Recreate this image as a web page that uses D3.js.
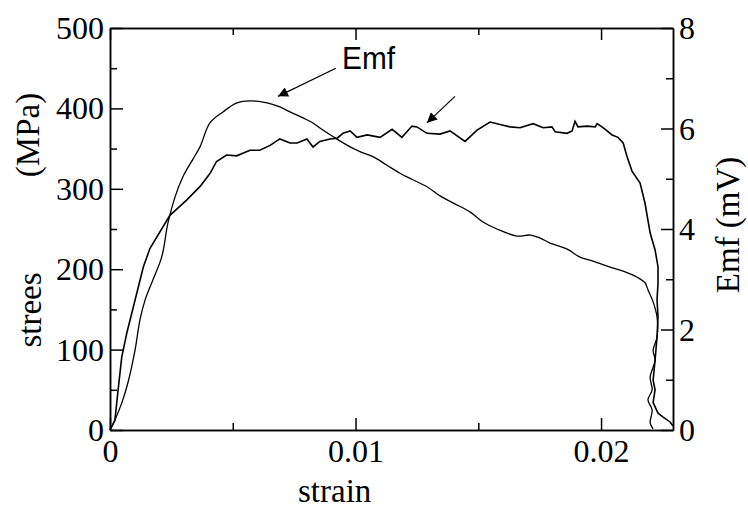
<!DOCTYPE html>
<html>
<head>
<meta charset="utf-8">
<script src="https://cdn.jsdelivr.net/npm/d3@7"></script>
<style>
body { margin: 0; background: #fff; }
svg text { font-family: 'Liberation Serif', 'Times New Roman', Times, serif !important; }
svg text.sans { font-family: 'Liberation Sans', Arial, sans-serif !important; }
.axis path, .axis line { stroke: #000; stroke-width: 1.5; }
</style>
</head>
<body>
<div class="container"></div>
<script>
const WIDTH = 748
	, HEIGHT = 508
	, LEFT = 110
	, RIGHT = 673
	, TOP = 28
	, BOTTOM = 430;

// strain / stress (MPa) curve
var stressStrain = [0, 0.0002, 0.00033, 0.00048, 0.00068, 0.00095, 0.00136, 0.00163, 0.00244, 0.00312,
	0.00367, 0.00407, 0.00434, 0.00475, 0.00516, 0.0057, 0.0061, 0.00652, 0.00692, 0.00733,
	0.00762, 0.00802, 0.00827, 0.00855, 0.00896, 0.00925, 0.00949, 0.00978, 0.01006, 0.01047,
	0.011, 0.01149, 0.01189, 0.0123, 0.0125, 0.01291, 0.01344, 0.01385, 0.01446, 0.01495,
	0.01548, 0.01589, 0.01629, 0.0167, 0.01723, 0.01764, 0.018, 0.01813, 0.01861, 0.01882,
	0.01894, 0.01906, 0.01943, 0.01976, 0.01984, 0.02008, 0.02045, 0.02069, 0.0209, 0.02106,
	0.02126, 0.02159, 0.02179, 0.022, 0.0222, 0.02232, 0.02232, 0.02228, 0.02232, 0.02228,
	0.0222, 0.02212, 0.0222, 0.02212, 0.02232, 0.02253, 0.02281, 0.02293];
var stressValues = [0, 12, 50, 91, 120, 153, 203, 226, 267, 286,
	303, 319, 334, 342, 341, 348, 348, 354, 362, 357,
	357, 362, 352, 359, 362, 363, 369, 372, 364, 367,
	364, 374, 364, 378, 377, 369, 368, 372, 359, 373,
	383, 380, 377, 376, 381, 376, 377, 371, 369, 372,
	384, 377, 378, 377, 381, 376, 367, 364, 357, 340,
	322, 307, 282, 245, 224, 203, 183, 162, 141, 116,
	87, 62, 50, 34, 21, 16, 10, 5];

// strain / Emf (mV) curve
var emfStrain = [0, 0.0002, 0.00048, 0.00073, 0.00102, 0.00122, 0.00143, 0.00175, 0.00211, 0.00236,
	0.00265, 0.00297, 0.00338, 0.00367, 0.00407, 0.0046, 0.00517, 0.0057, 0.0064, 0.00692,
	0.00733, 0.00786, 0.00827, 0.00855, 0.00908, 0.00965, 0.01018, 0.01071, 0.01128, 0.01181,
	0.01234, 0.01291, 0.01344, 0.01397, 0.01466, 0.01519, 0.01576, 0.01658, 0.01711, 0.01752,
	0.01792, 0.01862, 0.01914, 0.01967, 0.02037, 0.0209, 0.02147, 0.02179, 0.02191, 0.02212,
	0.02228, 0.02228, 0.02212, 0.0222, 0.022, 0.02208, 0.02191, 0.02208, 0.022, 0.02212];
var emfValues = [0, 0.2, 0.54, 0.94, 1.59, 2.19, 2.59, 2.99, 3.45, 4.12,
	4.64, 5.04, 5.39, 5.64, 6.11, 6.33, 6.51, 6.55, 6.51, 6.43,
	6.33, 6.21, 6.11, 6.01, 5.84, 5.67, 5.54, 5.44, 5.27, 5.11,
	4.98, 4.84, 4.66, 4.52, 4.34, 4.14, 4.0, 3.86, 3.88, 3.82,
	3.72, 3.60, 3.44, 3.36, 3.24, 3.16, 3.04, 2.93, 2.79, 2.55,
	2.25, 1.85, 1.59, 1.39, 1.05, 0.80, 0.60, 0.40, 0.14, 0.02];

var xTicks = [0, 0.01, 0.02]
	, xMinorTicks = [0.005, 0.015]
	, stressTicks = [0, 100, 200, 300, 400, 500]
	, stressMinorTicks = [50, 150, 250, 350, 450]
	, emfTicks = [0, 2, 4, 6, 8]
	, emfMinorTicks = [1, 3, 5, 7];

var svg = d3.select('.container').append('svg')
	.attr('width', WIDTH)
	.attr('height', HEIGHT);

var x = d3.scaleLinear().domain([0, 0.02293]).range([LEFT, RIGHT]);
var yStress = d3.scaleLinear().domain([0, 500]).range([BOTTOM, TOP]);
var yEmf = d3.scaleLinear().domain([0, 8]).range([BOTTOM, TOP]);

var fmtX = function (d) { return d === 0 ? '0' : d3.format('.2f')(d); };

var addAxis = function (axis, tx, ty) {
	var g = svg.append('g')
		.attr('class', 'axis')
		.attr('transform', 'translate(' + tx + ',' + ty + ')')
		.call(axis)
		.attr('font-family', null);
	g.selectAll('text')
		.attr('fill', '#000')
		.style('font-size', '32px');
	return g;
};

// minor ticks first (no labels)
addAxis(d3.axisBottom(x).tickValues(xMinorTicks).tickSize(-7).tickSizeOuter(0).tickFormat(''), 0, BOTTOM);
addAxis(d3.axisTop(x).tickValues(xMinorTicks).tickSize(-7).tickSizeOuter(0).tickFormat(''), 0, TOP);
addAxis(d3.axisLeft(yStress).tickValues(stressMinorTicks).tickSize(-7).tickSizeOuter(0).tickFormat(''), LEFT, 0);
addAxis(d3.axisRight(yEmf).tickValues(emfMinorTicks).tickSize(-7).tickSizeOuter(0).tickFormat(''), RIGHT, 0);

var gx = addAxis(d3.axisBottom(x).tickValues(xTicks).tickSize(-12).tickSizeOuter(0).tickFormat(fmtX), 0, BOTTOM);
gx.selectAll('text').attr('y', 32).attr('dy', 0);
addAxis(d3.axisTop(x).tickValues(xTicks).tickSize(-12).tickSizeOuter(0).tickFormat(''), 0, TOP);
var gl = addAxis(d3.axisLeft(yStress).tickValues(stressTicks).tickSize(-13).tickSizeOuter(0), LEFT, 0);
gl.selectAll('text').attr('x', -6).attr('dy', '0.33em');
var gr = addAxis(d3.axisRight(yEmf).tickValues(emfTicks).tickSize(-12).tickSizeOuter(0), RIGHT, 0);
gr.selectAll('text').attr('x', 6).attr('dy', '0.33em');

// curves
var stressLine = d3.line()
	.x(function (d, i) { return x(stressStrain[i]); })
	.y(function (d) { return yStress(d); });
var emfLine = d3.line()
	.x(function (d, i) { return x(emfStrain[i]); })
	.y(function (d) { return yEmf(d); })
	.curve(d3.curveCatmullRom.alpha(0.5));

svg.append('path')
	.attr('d', emfLine(emfValues))
	.attr('fill', 'none')
	.attr('stroke', '#000')
	.attr('stroke-width', 1.3);
svg.append('path')
	.attr('d', stressLine(stressValues))
	.attr('fill', 'none')
	.attr('stroke', '#000')
	.attr('stroke-width', 1.6);

// axis titles
var title = function (txt, tx, ty, rot) {
	return svg.append('text')
		.attr('transform', 'translate(' + tx + ',' + ty + ')' + (rot ? ' rotate(-90)' : ''))
		.attr('text-anchor', 'middle')
		.style('font-size', '33px')
		.text(txt);
};
title('strain', x(0.00915), 502, false);
title('strees', 41, 310, true);
title('(MPa)', 39, 135, true);
title('Emf (mV)', 739, 225, true);

// annotations
svg.append('defs').append('marker')
	.attr('id', 'head')
	.attr('viewBox', '0 0 10 10')
	.attr('refX', 10).attr('refY', 5)
	.attr('markerUnits', 'userSpaceOnUse')
	.attr('markerWidth', 15).attr('markerHeight', 10)
	.attr('orient', 'auto')
	.append('path')
	.attr('d', 'M0,0L10,5L0,10Z')
	.attr('fill', '#000');

var arrows = [
	{from: [0.0092, 450], to: [0.00684, 415]},
	{from: [0.01405, 415], to: [0.01291, 382]}
];
svg.selectAll('.arrow').data(arrows).enter().append('line')
	.attr('class', 'arrow')
	.attr('x1', function (d) { return x(d.from[0]); })
	.attr('y1', function (d) { return yStress(d.from[1]); })
	.attr('x2', function (d) { return x(d.to[0]); })
	.attr('y2', function (d) { return yStress(d.to[1]); })
	.attr('stroke', '#000')
	.attr('stroke-width', 1.2)
	.attr('marker-end', 'url(#head)');

svg.append('text')
	.attr('class', 'sans')
	.attr('x', x(0.00945)).attr('y', yStress(449))
	.style('font-size', '32px')
	.attr('textLength', 53)
	.attr('lengthAdjust', 'spacingAndGlyphs')
	.text('Emf');
</script>
</body>
</html>
